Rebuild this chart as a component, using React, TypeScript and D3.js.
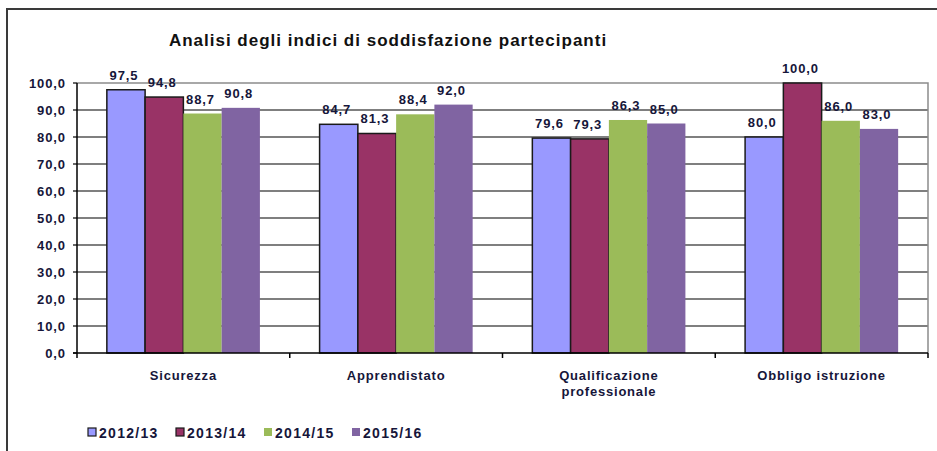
import { scaleBand, scaleLinear } from "d3";

const categories = ["Sicurezza", "Apprendistato", "Qualificazione professionale", "Obbligo istruzione"];
const seriesNames = ["2012/13", "2013/14", "2014/15", "2015/16"];
const v2012 = [97.5, 84.7, 79.6, 80.0];
const v2013 = [94.8, 81.3, 79.3, 100.0];
const v2014 = [88.7, 88.4, 86.3, 86.0];
const v2015 = [90.8, 92.0, 85.0, 83.0];
const yTicks = [0, 10, 20, 30, 40, 50, 60, 70, 80, 90, 100];

const colors = ["#9999FF", "#993366", "#9BBB59", "#8064A2"];
const outlined = [true, true, false, false];

const width = 937;
const height = 451;
const plot = { left: 77, right: 928, top: 83, bottom: 353 };
const txt = "#16163a";
const font = "'Liberation Sans', Arial, sans-serif";

const fmt = (v: number) => v.toFixed(1).replace(".", ",");

export default function App() {
  const values = [v2012, v2013, v2014, v2015];
  const x0 = scaleBand().domain(categories).range([plot.left, plot.right]);
  const x1 = scaleBand().domain(seriesNames).range([0, x0.bandwidth()]).paddingInner(0).paddingOuter(0.78);
  const y = scaleLinear().domain([0, 100]).range([plot.bottom, plot.top]);

  return (
    <svg width={width} height={height} style={{ display: "block", position: "absolute", left: 0, top: 0 }}>
      <rect width={width} height={height} fill="#fff" />
      {/* outer frame */}
      <path d={`M7,${height + 5} V9 H${width + 5}`} fill="none" stroke="#3a3a3a" strokeWidth={2} />

      <text x={388} y={46} textAnchor="middle" fontFamily={font} fontWeight="bold" fontSize={17} letterSpacing={1} fill="#111">
        Analisi degli indici di soddisfazione partecipanti
      </text>

      {/* grid */}
      {yTicks.map((t) => (
        <g key={t}>
          {t > 0 && t < 100 && (
            <line x1={plot.left} x2={plot.right} y1={y(t)} y2={y(t)} stroke="#000" strokeWidth={1.2} />
          )}
          <line x1={plot.left - 4} x2={plot.left} y1={y(t)} y2={y(t)} stroke="#000" strokeWidth={1.2} />
          <text x={66} y={y(t) + 4.5} textAnchor="end" fontFamily={font} fontWeight="bold" fontSize={13} letterSpacing={0.9} fill={txt}>
            {fmt(t)}
          </text>
        </g>
      ))}
      <path d={`M${plot.left},${plot.top} H${plot.right} V${plot.bottom}`} fill="none" stroke="#8c8c8c" strokeWidth={1.5} />

      {/* bars */}
      {categories.map((c, ci) => (
        <g key={c} transform={`translate(${x0(c)},0)`}>
          {seriesNames.map((s, si) => {
            const v = values[si][ci];
            const bx = x1(s) as number;
            return (
              <g key={s}>
                <rect
                  x={bx}
                  y={y(v)}
                  width={x1.bandwidth()}
                  height={plot.bottom - y(v)}
                  fill={colors[si]}
                  stroke={outlined[si] ? "#1a1a1a" : "none"}
                  strokeWidth={1.5}
                />
                <text
                  x={bx + x1.bandwidth() / 2 - 2}
                  y={y(v) - 10}
                  textAnchor="middle"
                  fontFamily={font}
                  fontWeight="bold"
                  fontSize={13}
                  letterSpacing={0.9}
                  fill={txt}
                >
                  {fmt(v)}
                </text>
              </g>
            );
          })}
        </g>
      ))}

      {/* axes */}
      <line x1={plot.left} x2={plot.left} y1={plot.top} y2={plot.bottom + 5} stroke="#000" strokeWidth={1.5} />
      <line x1={plot.left - 4} x2={plot.right} y1={plot.bottom} y2={plot.bottom} stroke="#000" strokeWidth={1.5} />
      {categories.map((c) => (
        <line key={c} x1={(x0(c) as number) + x0.bandwidth()} x2={(x0(c) as number) + x0.bandwidth()} y1={plot.bottom} y2={plot.bottom + 5} stroke="#000" strokeWidth={1.5} />
      ))}

      {/* category labels */}
      {categories.map((c) => {
        const cx = (x0(c) as number) + x0.bandwidth() / 2;
        const lines = c === "Qualificazione professionale" ? ["Qualificazione", "professionale"] : [c];
        return (
          <text key={c} x={cx} y={380} textAnchor="middle" fontFamily={font} fontWeight="bold" fontSize={13} letterSpacing={0.8} fill={txt}>
            {lines.map((l, i) => (
              <tspan key={l} x={cx} dy={i === 0 ? 0 : 16}>
                {l}
              </tspan>
            ))}
          </text>
        );
      })}

      {/* legend */}
      {seriesNames.map((s, i) => {
        const lx = 88 + i * 88;
        return (
          <g key={s} transform={`translate(${lx},428)`}>
            <rect x={0} y={0} width={8} height={8} fill={colors[i]} stroke={outlined[i] ? "#1a1a1a" : "none"} strokeWidth={1.2} />
            <text x={11} y={9.5} fontFamily={font} fontWeight="bold" fontSize={14} letterSpacing={1.3} fill={txt}>
              {s}
            </text>
          </g>
        );
      })}
    </svg>
  );
}
